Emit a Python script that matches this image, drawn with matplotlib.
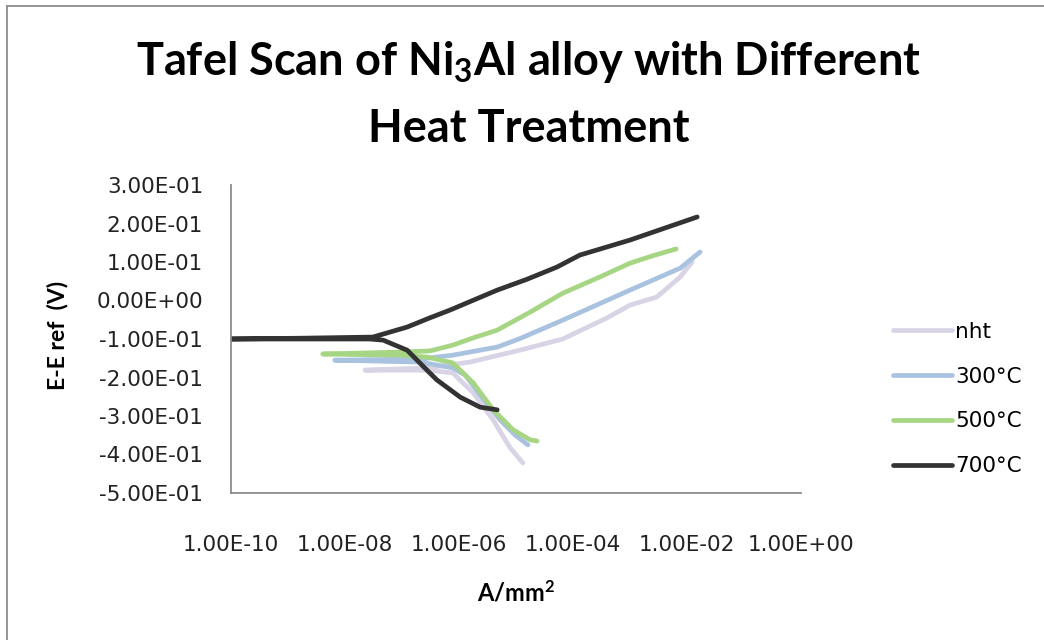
import numpy as np
import matplotlib
matplotlib.use("Agg")
import matplotlib.pyplot as plt
from matplotlib.ticker import FixedLocator, FuncFormatter, NullLocator
from matplotlib.lines import Line2D

plt.rcParams['mathtext.fontset'] = 'custom'
plt.rcParams['mathtext.rm'] = 'Lato:bold'
plt.rcParams['mathtext.it'] = 'Lato:bold'
plt.rcParams['mathtext.bf'] = 'Lato:bold'

# current density (A/mm2) and potential (V)
# each scan: cathodic branch -> Ecorr -> anodic branch
i_nht = [1.32e-5, 7.76e-6, 3.98e-6, 1.78e-6, 7.76e-7, 2.75e-7, 2.24e-8,
         2.75e-7, 1.55e-6, 1.17e-5, 6.61e-5, 3.98e-4, 1.0e-3, 2.95e-3, 7.59e-3, 1.23e-2]
e_nht = [-0.422, -0.381, -0.310, -0.240, -0.188, -0.181, -0.181,
         -0.175, -0.160, -0.129, -0.100, -0.045, -0.012, 0.009, 0.061, 0.100]

i_300 = [1.62e-5, 9.55e-6, 5.25e-6, 2.34e-6, 1.29e-6, 7.76e-7, 2.09e-7, 6.61e-9,
         2.09e-7, 7.76e-7, 4.68e-6, 1.17e-5, 6.61e-5, 1.0e-3, 7.59e-3, 1.70e-2]
e_300 = [-0.375, -0.349, -0.310, -0.245, -0.194, -0.175, -0.160, -0.155,
         -0.152, -0.142, -0.121, -0.099, -0.051, 0.027, 0.084, 0.126]

i_500 = [2.34e-5, 1.78e-5, 8.91e-6, 3.98e-6, 1.78e-6, 7.76e-7, 2.75e-7, 9.12e-8, 4.07e-9,
         9.12e-8, 3.09e-7, 7.76e-7, 1.78e-6, 4.68e-6, 1.78e-5, 6.61e-5, 2.95e-4, 1.0e-3, 2.75e-3, 6.46e-3]
e_500 = [-0.365, -0.362, -0.336, -0.284, -0.214, -0.162, -0.147, -0.142, -0.139,
         -0.134, -0.131, -0.116, -0.097, -0.077, -0.030, 0.019, 0.061, 0.097, 0.118, 0.134]

i_700 = [4.68e-6, 2.34e-6, 1.05e-6, 4.07e-7, 2.75e-7, 1.23e-7, 4.68e-8, 2.75e-8, 1.62e-9, 1.0e-10,
         1.62e-9, 3.09e-8, 1.23e-7, 3.09e-7, 6.92e-7, 4.68e-6, 1.55e-5, 5.25e-5, 1.32e-4, 1.0e-3, 1.51e-2]
e_700 = [-0.284, -0.277, -0.251, -0.206, -0.181, -0.129, -0.103, -0.100, -0.100, -0.100,
         -0.098, -0.095, -0.069, -0.045, -0.025, 0.027, 0.055, 0.087, 0.118, 0.157, 0.217]

labels = ["nht", "300°C", "500°C", "700°C"]
colors = ["#D9D3E6", "#A9C2DF", "#A6D683", "#333333"]

x_ticks = [1e-10, 1e-8, 1e-6, 1e-4, 1e-2, 1e0]
y_ticks = [-0.5, -0.4, -0.3, -0.2, -0.1, 0.0, 0.1, 0.2, 0.3]

fig = plt.figure(figsize=(10.44, 6.4), dpi=100)
ax = fig.add_axes([231/1044, 147/640, 570/1044, 308/640])

for (x, y), lab, c in zip([(i_nht, e_nht), (i_300, e_300), (i_500, e_500), (i_700, e_700)], labels, colors):
    ax.plot(x, y, color=c, lw=3.4, label=lab, solid_capstyle="round", solid_joinstyle="round")

ax.set_xscale("log")
ax.set_xlim(1e-10, 1e0)
ax.set_ylim(-0.5, 0.3)
ax.xaxis.set_major_locator(FixedLocator(x_ticks))
ax.xaxis.set_minor_locator(NullLocator())
ax.yaxis.set_major_locator(FixedLocator(y_ticks))
fmt = FuncFormatter(lambda v, p: f"{v:.2E}".replace("-0.00", "0.00"))
ax.xaxis.set_major_formatter(fmt)
ax.yaxis.set_major_formatter(fmt)
ax.tick_params(length=0, labelsize=15.5, colors="#222222")
ax.tick_params(axis="y", pad=20)
ax.tick_params(axis="x", pad=30)
for s in ["top", "right"]:
    ax.spines[s].set_visible(False)
for s in ["left", "bottom"]:
    ax.spines[s].set_color("#8c8c8c")
    ax.spines[s].set_linewidth(1.3)

ax.set_xlabel("A/mm$^2$", fontfamily="Lato", fontweight="bold", fontsize=17, labelpad=18)
fig.text(58/1044, 1 - 335/640, "E-E ref  (V)", rotation=90, ha="center", va="center",
         fontfamily="Lato", fontweight="bold", fontsize=16.5)

fig.text(529/1044, 1 - 75/640, "Tafel Scan of Ni$_3$Al alloy with Different", ha="center", va="baseline",
         fontfamily="Lato", fontweight="bold", fontsize=32.5)
fig.text(529/1044, 1 - 142/640, "Heat Treatment", ha="center", va="baseline",
         fontfamily="Lato", fontweight="bold", fontsize=32.5)

ax.legend(loc="center left", bbox_to_anchor=(893/1044, 1 - 399/640), bbox_transform=fig.transFigure,
          frameon=False, fontsize=15.5, handlelength=2.75, handletextpad=0.15, labelspacing=1.15,
          borderpad=0, borderaxespad=0)

# chart area border
fig.add_artist(Line2D([7/1044, 7/1044], [0, 1 - 6/640], transform=fig.transFigure, color="#8c8c8c", lw=1.3))
fig.add_artist(Line2D([7/1044, 1], [1 - 6/640, 1 - 6/640], transform=fig.transFigure, color="#8c8c8c", lw=1.3))

fig.savefig("out.png", dpi=100)
